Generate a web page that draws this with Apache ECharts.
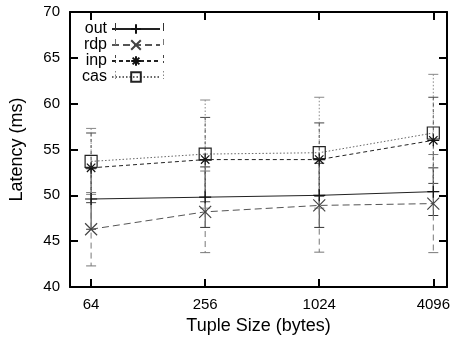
<!DOCTYPE html>
<html><head><meta charset="utf-8">
<script src="https://cdn.jsdelivr.net/npm/echarts@6/dist/echarts.min.js"></script>
<style>html,body{margin:0;padding:0;background:#fff}#c{width:452px;height:337px}</style>
</head><body><div id="c"></div>
<script>
const categories = ['64', '256', '1024', '4096'];
const yTicks = [40, 45, 50, 55, 60, 65, 70];
const seriesNames = ['out', 'rdp', 'inp', 'cas'];
const outMean = [49.6, 49.8, 50.0, 50.4];
const outLow  = [46.3, 46.5, 46.5, 47.8];
const outHigh = [52.9, 53.1, 53.5, 53.0];
const rdpMean = [46.3, 48.2, 48.9, 49.1];
const rdpLow  = [42.3, 43.75, 43.8, 43.75];
const rdpHigh = [50.3, 52.65, 54.0, 54.45];
const inpMean = [53.0, 53.9, 53.9, 56.0];
const inpLow  = [49.2, 49.3, 49.9, 51.3];
const inpHigh = [56.8, 58.5, 57.9, 60.7];
const casMean = [53.7, 54.5, 54.65, 56.8];
const casLow  = [50.1, 48.6, 48.6, 50.4];
const casHigh = [57.3, 60.4, 60.7, 63.2];

const idx = categories.map((c, i) => i);
const font = 'Liberation Sans, Arial, sans-serif';

const styles = {
  out: {color: '#222', mark: '#111', dash: 'solid', ebColor: '#333', ebDash: null,
        symbol: 'path://M0,5L10,5M5,0L5,10'},
  rdp: {color: '#555', mark: '#444', dash: [7, 4], ebColor: '#777', ebDash: [6, 4],
        symbol: 'path://M0,0L10,10M10,0L0,10'},
  inp: {color: '#222', mark: '#111', dash: [4, 3], ebColor: '#444', ebDash: [3, 3],
        symbol: 'path://M0,5L10,5M5,0L5,10M1.5,1.5L8.5,8.5M8.5,1.5L1.5,8.5'},
  cas: {color: '#666', mark: '#222', dash: [1.5, 2], ebColor: '#888', ebDash: [1.5, 2],
        symbol: 'rect'}
};
const means = {out: outMean, rdp: rdpMean, inp: inpMean, cas: casMean};
const lows = {out: outLow, rdp: rdpLow, inp: inpLow, cas: casLow};
const highs = {out: outHigh, rdp: rdpHigh, inp: inpHigh, cas: casHigh};

function errSeries(name) {
  const st = styles[name];
  return {
    type: 'custom', name: name + '_err', silent: true, z: 1,
    data: idx.map(i => [i, lows[name][i], highs[name][i]]),
    encode: {x: 0, y: [1, 2]},
    renderItem: function (params, api) {
      const x = api.value(0);
      const hi = api.coord([x, api.value(2)]);
      const lo = api.coord([x, api.value(1)]);
      const w = 5;
      const s = {stroke: st.ebColor, lineWidth: 1, lineDash: st.ebDash, fill: null};
      return {type: 'group', children: [
        {type: 'line', shape: {x1: hi[0], y1: hi[1], x2: lo[0], y2: lo[1]}, style: s},
        {type: 'line', shape: {x1: hi[0] - w, y1: hi[1], x2: hi[0] + w, y2: hi[1]}, style: {stroke: st.ebColor, lineWidth: 1}},
        {type: 'line', shape: {x1: lo[0] - w, y1: lo[1], x2: lo[0] + w, y2: lo[1]}, style: {stroke: st.ebColor, lineWidth: 1}}
      ]};
    }
  };
}
function lineSeries(name) {
  const st = styles[name];
  return {
    type: 'line', name: name, z: 3,
    data: idx.map(i => [i, means[name][i]]),
    symbol: st.symbol, symbolSize: 12,
    showAllSymbol: true,
    lineStyle: {color: st.color, width: 1, type: st.dash},
    itemStyle: {color: name === 'cas' ? 'rgba(255,255,255,0)' : st.mark, borderColor: st.mark, borderWidth: 1.2},
    emphasis: {disabled: true},
    animation: false
  };
}

// legend end caps (decoration of the legend samples)
const legendCaps = [];
seriesNames.forEach((n, i) => {
  const cy = 27 + i * 16;
  [115.5, 163.5].forEach(cx => {
    legendCaps.push({type: 'line', silent: true, z: 10,
      shape: {x1: cx, y1: cy - 4, x2: cx, y2: cy + 4},
      style: {stroke: styles[n].ebColor, lineWidth: 1, lineDash: styles[n].ebDash}});
  });
});

const chart = echarts.init(document.getElementById('c'), null, {renderer: 'canvas'});
const xCommon = {
  type: 'value', min: -0.185, max: 3.12,
  splitLine: {show: false},
  axisLine: {show: true, onZero: false, lineStyle: {color: '#000', width: 2}},
  axisTick: {show: true, inside: true, length: 8, customValues: idx, lineStyle: {color: '#000', width: 2}}
};
const yCommon = {
  type: 'value', min: 40, max: 70, interval: 5,
  splitLine: {show: false},
  axisLine: {show: true, onZero: false, lineStyle: {color: '#000', width: 2}},
  axisTick: {show: true, inside: true, length: 8, lineStyle: {color: '#000', width: 2}}
};
const option = {
  animation: false,
  backgroundColor: '#fff',
  grid: {left: 70, right: 5, top: 12, bottom: 50, containLabel: false, outerBoundsMode: 'none'},
  xAxis: [
    Object.assign({}, xCommon, {
      position: 'bottom',
      name: 'Tuple Size (bytes)', nameLocation: 'middle', nameGap: 27,
      nameTextStyle: {fontFamily: font, fontSize: 18, color: '#000'},
      axisLabel: {show: true, customValues: idx, margin: 10, fontFamily: font, fontSize: 15, color: '#000',
        formatter: v => categories[Math.round(v)]}
    }),
    Object.assign({}, xCommon, {position: 'top', axisLabel: {show: false}})
  ],
  yAxis: [
    Object.assign({}, yCommon, {
      position: 'left',
      name: 'Latency (ms)', nameLocation: 'middle', nameGap: 44,
      nameTextStyle: {fontFamily: font, fontSize: 18, color: '#000'},
      axisLabel: {show: true, margin: 10, fontFamily: font, fontSize: 15, color: '#000',
        formatter: v => (yTicks.indexOf(v) >= 0 ? String(v) : '')}
    }),
    Object.assign({}, yCommon, {position: 'right', axisLabel: {show: false}})
  ],
  legend: {
    orient: 'vertical', left: 74, top: 16, align: 'right', padding: 5,
    itemWidth: 48, itemHeight: 12, itemGap: 0,
    data: seriesNames,
    textStyle: {fontFamily: font, fontSize: 16, color: '#000', width: 28, align: 'right', lineHeight: 16, height: 16},
    selectedMode: false
  },
  graphic: legendCaps,
  series: [
    errSeries('out'), errSeries('rdp'), errSeries('inp'), errSeries('cas'),
    lineSeries('out'), lineSeries('rdp'), lineSeries('inp'), lineSeries('cas')
  ]
};
chart.setOption(option);
</script>
</body></html>
